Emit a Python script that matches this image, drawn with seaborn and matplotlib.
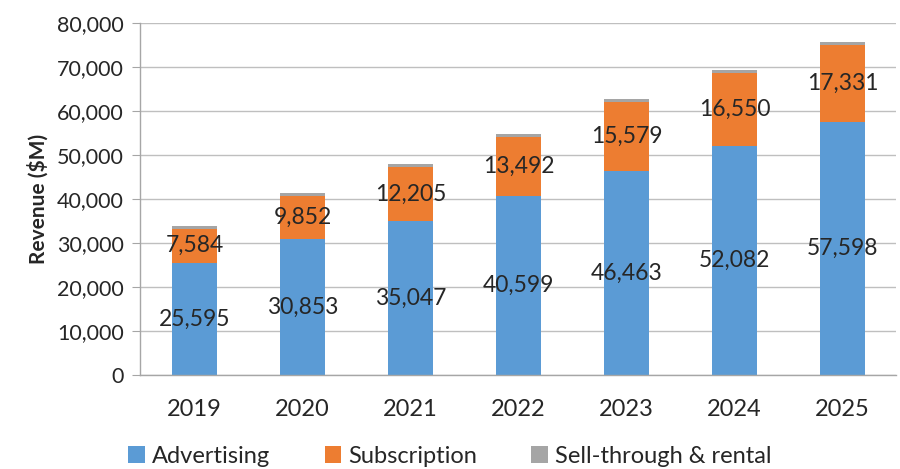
import numpy as np
import pandas as pd
import matplotlib
matplotlib.use("Agg")
import matplotlib.pyplot as plt
import seaborn as sns
from matplotlib.patches import Patch
from matplotlib.ticker import FuncFormatter, MultipleLocator

# Chart data (values in $M)
years = ["2019", "2020", "2021", "2022", "2023", "2024", "2025"]
advertising = [25595, 30853, 35047, 40599, 46463, 52082, 57598]
subscription = [7584, 9852, 12205, 13492, 15579, 16550, 17331]
sell_through = [600, 650, 700, 700, 750, 800, 800]

series_names = ["Advertising", "Subscription", "Sell-through & rental"]
colors = ["#5B9BD5", "#ED7D31", "#A5A5A5"]

sns.set_style("white")
plt.rcParams["font.family"] = ["Lato", "DejaVu Sans"]

df = pd.DataFrame({
    "year": years,
    "ad": advertising,
    "sub": subscription,
    "st": sell_through,
})
df["ad_sub"] = df["ad"] + df["sub"]
df["total"] = df["ad_sub"] + df["st"]

fig = plt.figure(figsize=(9, 4.69), dpi=100)
ax = fig.add_axes([0.156, 0.2, 0.84, 0.751])

# stacked bars: draw cumulative totals, largest first
bar_w = 0.41
for col, c in zip(["total", "ad_sub", "ad"], colors[::-1]):
    sns.barplot(data=df, x="year", y=col, color=c, width=bar_w,
                saturation=1, linewidth=0, edgecolor="none", ax=ax, zorder=2)

# value labels centred in segments
txt_col = "#262626"
for i in range(len(years)):
    ax.text(i, df["ad"][i] / 2, f"{advertising[i]:,}", ha="center", va="center",
            fontsize=16.5, color=txt_col, zorder=3)
    ax.text(i, df["ad"][i] + subscription[i] / 2, f"{subscription[i]:,}",
            ha="center", va="center", fontsize=16.5, color=txt_col, zorder=3)

ax.set_ylim(0, 80000)
ax.set_xlim(-0.5, len(years) - 0.5)
ax.yaxis.set_major_locator(MultipleLocator(10000))
ax.yaxis.set_major_formatter(FuncFormatter(lambda v, p: f"{int(v):,}"))
ax.grid(axis="y", color="#BFBFBF", linewidth=1, zorder=0)
ax.set_axisbelow(True)

for s in ["top", "right"]:
    ax.spines[s].set_visible(False)
for s in ["left", "bottom"]:
    ax.spines[s].set_color("#A6A6A6")
    ax.spines[s].set_linewidth(1)

# category ticks between bars
ax.set_xticks(np.arange(len(years)))
ax.set_xticklabels(years)
ax.set_xticks(np.arange(len(years) + 1) - 0.5, minor=True)
ax.tick_params(axis="x", which="major", length=0, pad=17, labelsize=17, labelcolor=txt_col)
ax.tick_params(axis="x", which="minor", length=6, color="#A6A6A6", direction="out")
ax.tick_params(axis="y", length=6, color="#A6A6A6", direction="out", pad=6,
               labelsize=15.5, labelcolor=txt_col, left=True)

ax.set_xlabel("")
ax.set_ylabel("Revenue ($M)", fontsize=15, fontweight="bold", color=txt_col, labelpad=6)

handles = [Patch(facecolor=c, edgecolor="none", label=n) for c, n in zip(colors, series_names)]
fig.legend(handles=handles, loc="lower center", bbox_to_anchor=(0.5, -0.04), ncol=3,
           frameon=False, fontsize=17, handlelength=0.7, handleheight=0.7,
           handletextpad=0.3, columnspacing=2.3, labelcolor=txt_col)

fig.savefig("out.png", dpi=100)
